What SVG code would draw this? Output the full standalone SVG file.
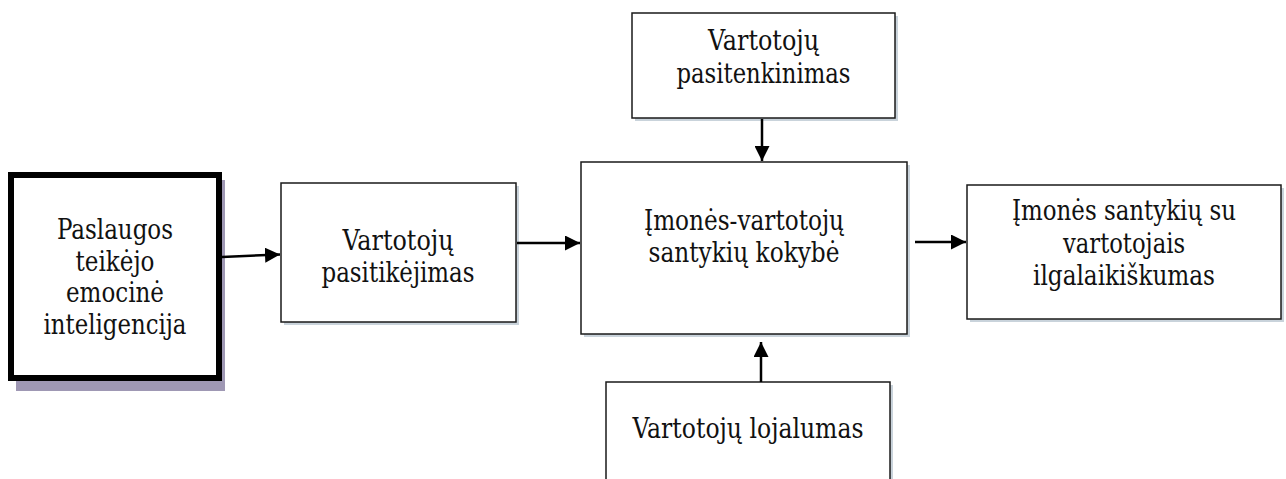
<svg xmlns="http://www.w3.org/2000/svg" width="1286" height="479" viewBox="0 0 1286 479">
  <style>
    .box { fill: #ffffff; stroke: #1a1a1a; stroke-width: 1.5; }
    .thick { fill: #ffffff; stroke: #000000; stroke-width: 6; }
    .shadow { fill: #c9d3db; }
    .shadow-dark { fill: #9f98b4; }
    .t { font-family: 'DejaVu Serif Condensed', 'DejaVu Serif', serif; font-size: 27px; fill: #111111; text-anchor: middle; }
    .conn { stroke: #000000; stroke-width: 2.5; fill: none; marker-end: url(#arrow); }
  </style>
  <defs>
    <marker id="arrow" markerUnits="userSpaceOnUse" markerWidth="16" markerHeight="15" refX="15" refY="7.5" orient="auto">
      <path d="M0,0 L15,7.5 L0,15 z" fill="#000000"/>
    </marker>
  </defs>

  <rect width="1286" height="479" fill="#ffffff"/>

  <!-- source node, drawn with a heavy frame -->
  <g id="node-emotional-intelligence" class="t">
    <rect class="shadow-dark" x="16" y="180" width="209" height="211"/>
    <rect class="thick" x="11" y="175" width="208" height="203"/>
    <text x="115" y="239" textLength="116" lengthAdjust="spacingAndGlyphs">Paslaugos</text>
    <text x="115" y="270.5" textLength="79" lengthAdjust="spacingAndGlyphs">teikėjo</text>
    <text x="115" y="302" textLength="98" lengthAdjust="spacingAndGlyphs">emocinė</text>
    <text x="115" y="333.5" textLength="143" lengthAdjust="spacingAndGlyphs">inteligencija</text>
  </g>

  <g id="node-trust" class="t">
    <rect class="shadow" x="284" y="186" width="235" height="139"/>
    <rect class="box" x="281" y="183" width="235" height="139"/>
    <text x="398" y="250" textLength="111" lengthAdjust="spacingAndGlyphs">Vartotojų</text>
    <text x="398" y="282" textLength="153" lengthAdjust="spacingAndGlyphs">pasitikėjimas</text>
  </g>

  <g id="node-quality" class="t">
    <rect class="shadow" x="584" y="165" width="326" height="172"/>
    <rect class="box" x="581" y="162" width="326" height="172"/>
    <text x="744" y="230" textLength="200" lengthAdjust="spacingAndGlyphs">Įmonės-vartotojų</text>
    <text x="744" y="262" textLength="191" lengthAdjust="spacingAndGlyphs">santykių kokybė</text>
  </g>

  <g id="node-satisfaction" class="t">
    <rect class="shadow" x="635" y="16" width="263" height="105"/>
    <rect class="box" x="632" y="13" width="263" height="105"/>
    <text x="763.5" y="50" textLength="111" lengthAdjust="spacingAndGlyphs">Vartotojų</text>
    <text x="763.5" y="83" textLength="174" lengthAdjust="spacingAndGlyphs">pasitenkinimas</text>
  </g>

  <g id="node-loyalty" class="t">
    <rect class="shadow" x="609" y="385" width="284" height="110"/>
    <rect class="box" x="606" y="382" width="284" height="110"/>
    <text x="748" y="438" textLength="231" lengthAdjust="spacingAndGlyphs">Vartotojų lojalumas</text>
  </g>

  <g id="node-longevity" class="t">
    <rect class="shadow" x="970" y="188" width="314" height="134"/>
    <rect class="box" x="967" y="185" width="314" height="134"/>
    <text x="1124" y="220" textLength="224" lengthAdjust="spacingAndGlyphs">Įmonės santykių su</text>
    <text x="1124" y="253" textLength="122" lengthAdjust="spacingAndGlyphs">vartotojais</text>
    <text x="1124" y="285" textLength="182" lengthAdjust="spacingAndGlyphs">ilgalaikiškumas</text>
  </g>

  <g id="connectors">
    <line class="conn" x1="222" y1="257" x2="280" y2="254.5"/>
    <line class="conn" x1="517" y1="243" x2="580" y2="243"/>
    <line class="conn" x1="762" y1="119" x2="762" y2="161"/>
    <line class="conn" x1="761" y1="382" x2="761" y2="342"/>
    <line class="conn" x1="915" y1="242" x2="966" y2="242"/>
  </g>
</svg>
